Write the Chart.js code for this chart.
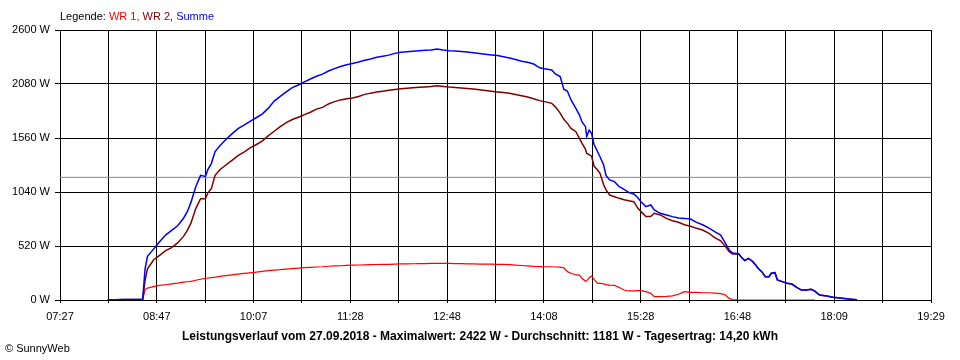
<!DOCTYPE html>
<html>
<head>
<meta charset="utf-8">
<script src="https://cdn.jsdelivr.net/npm/chart.js@4.4.1/dist/chart.umd.min.js"></script>
<style>
  body { margin: 0; background: #fff; }
</style>
</head>
<body>
<canvas id="grafik" width="960" height="360"></canvas>
<script>
// Messzeitpunkte (gemeinsam fuer alle Reihen)
const zeiten = [
  '08:07','08:20','08:36','08:38','08:40','08:45','08:50','08:55','09:00','09:05',
  '09:10','09:13','09:16','09:20','09:24','09:28','09:30','09:33','09:36','09:40',
  '09:45','09:50','09:55','10:00','10:05','10:10','10:15','10:20','10:25','10:30',
  '10:35','10:40','10:45','10:50','10:55','11:00','11:05','11:10','11:15','11:20',
  '11:25','11:30','11:35','11:40','11:45','11:50','11:55','12:00','12:05','12:10',
  '12:15','12:20','12:25','12:30','12:35','12:40','12:45','12:50','12:55','13:00',
  '13:05','13:10','13:15','13:20','13:25','13:30','13:35','13:40','13:45','13:50',
  '13:55','14:00','14:05','14:10','14:15','14:18','14:22','14:25','14:28','14:31',
  '14:35','14:38','14:40','14:43','14:44','14:46','14:48','14:50','14:53','14:55',
  '14:58','15:00','15:03','15:07','15:11','15:15','15:19','15:23','15:26','15:29',
  '15:33','15:37','15:40','15:45','15:50','15:55','16:00','16:05','16:10','16:15',
  '16:20','16:25','16:30','16:35','16:39','16:42','16:45','16:50','16:53','16:55',
  '16:58','17:01','17:04','17:06','17:09','17:12','17:15','17:17','17:20','17:22',
  '17:26','17:30','17:34','17:38','17:42','17:46','17:50','17:53','17:57','18:03',
  '18:08','18:14','18:19','18:25','18:28'
];

const summe = [
  0, 5, 5, 300, 420, 490, 560, 625, 670, 715,
  790, 850, 940, 1090, 1200, 1190, 1255, 1316, 1430, 1485,
  1545, 1600, 1650, 1685, 1720, 1755, 1790, 1845, 1915, 1960,
  2005, 2045, 2070, 2100, 2128, 2155, 2175, 2205, 2228, 2248,
  2265, 2278, 2292, 2308, 2320, 2337, 2348, 2358, 2375, 2385,
  2390, 2396, 2400, 2405, 2408, 2418, 2408, 2400, 2398, 2393,
  2388, 2381, 2374, 2367, 2360, 2354, 2342, 2330, 2315, 2300,
  2290, 2272, 2236, 2225, 2215, 2177, 2151, 2030, 2010, 1926,
  1846, 1781, 1717, 1669, 1573, 1637, 1605, 1500, 1428, 1380,
  1300, 1200, 1156, 1140, 1091, 1066, 1034, 1021, 990, 947,
  899, 915, 867, 835, 819, 803, 790, 786, 780, 748,
  725, 695, 658, 625, 546, 482, 452, 443, 401, 379,
  401, 376, 337, 305, 273, 225, 225, 257, 263, 193,
  177, 161, 154, 122, 96, 96, 103, 85, 48, 39,
  26, 19, 13, 6, 3
];

const wr2 = [
  0, 5, 5, 190, 300, 385, 430, 475, 505, 550,
  615, 670, 740, 880, 975, 975, 1030, 1075, 1200, 1255,
  1300, 1345, 1390, 1425, 1465, 1495, 1530, 1580, 1625, 1670,
  1708, 1738, 1760, 1785, 1808, 1838, 1855, 1888, 1910, 1927,
  1937, 1946, 1960, 1980, 1992, 2002, 2011, 2020, 2028, 2034,
  2040, 2044, 2048, 2052, 2055, 2062, 2056, 2050, 2046, 2041,
  2037, 2031, 2024, 2017, 2010, 2004, 1999, 1990, 1978, 1966,
  1955, 1938, 1920, 1908, 1894, 1860, 1800, 1740, 1701, 1653,
  1621, 1557, 1510, 1450, 1412, 1400, 1385, 1290, 1252, 1220,
  1110, 1060, 1011, 995, 979, 965, 955, 947, 890, 851,
  803, 803, 835, 819, 786, 764, 748, 725, 710, 690,
  674, 645, 600, 570, 514, 465, 443, 443, 401, 379,
  401, 376, 337, 305, 273, 225, 225, 257, 263, 193,
  177, 161, 154, 122, 96, 96, 103, 85, 48, 39,
  26, 19, 13, 6, 3
];

const wr1 = [
  0, 0, 0, 100, 115, 128, 140, 147, 155, 162,
  172, 176, 180, 190, 200, 208, 212, 216, 220, 228,
  235, 242, 250, 257, 262, 268, 275, 282, 288, 292,
  298, 303, 307, 311, 315, 318, 320, 325, 328, 330,
  333, 335, 337, 338, 340, 342, 343, 344, 346, 347,
  348, 349, 350, 351, 352, 353, 353, 352, 351, 350,
  348, 347, 346, 346, 345, 344, 343, 340, 336, 332,
  328, 324, 322, 320, 320, 318, 316, 310, 273, 257,
  241, 240, 209, 180, 185, 215, 231, 200, 161, 161,
  155, 148, 144, 140, 120, 96, 87, 88, 90, 90,
  80, 64, 32, 32, 34, 40, 55, 80, 74, 74,
  70, 70, 66, 62, 48, 15, 5, 0, 0, 0,
  0, 0, 0, 0, 0, 0, 0, 0, 0, 0,
  0, 0, 0, 0, 0, 0, 0, 0, null, null,
  null, null, null, null, null
];

// Achsenbeschriftung unten (jede zweite Gitterlinie)
const xTickLabels = ['07:27','08:47','10:07','11:28','12:48','14:08','15:28','16:48','18:09','19:29'];
const xMin = 447.5;   // 07:27:30 in Minuten
const xMax = 1169.3;  // 19:29:18
const yMax = 2600;
const yStep = 520;
const durchschnitt = 1181;
const titel = 'Leistungsverlauf vom 27.09.2018 - Maximalwert: 2422 W - Durchschnitt: 1181 W - Tagesertrag: 14,20 kWh';

Chart.defaults.font.family = '"Liberation Sans", Arial, sans-serif';
Chart.defaults.font.size = 11;
Chart.defaults.color = '#000';

function zuMinuten(t) {
    const [h, m] = t.split(':').map(Number);
    return h * 60 + m;
}

function punkte(werte) {
    return zeiten.map((t, i) => ({ x: zuMinuten(t), y: werte[i] }));
}

//Texte oben und unten, die nicht zu den Achsen gehoeren
const textePlugin = {
    id: 'texte',
    afterDraw(chart) {
        const ctx = chart.ctx;
        ctx.save();
        ctx.textBaseline = 'middle';
        ctx.font = '11px "Liberation Sans", Arial, sans-serif';
        let x = chart.chartArea.left;
        [['Legende: ', '#000'], ['WR 1, ', '#ff0000'], ['WR 2, ', '#800000'], ['Summe', '#0000ff']].forEach(([t, c]) => {
            ctx.fillStyle = c;
            ctx.fillText(t, x, 17);
            x += ctx.measureText(t).width;
        });
        ctx.fillStyle = '#000';
        ctx.fillText('\u00A9 SunnyWeb', 5, 349);
        ctx.font = 'bold 12px "Liberation Sans", Arial, sans-serif';
        ctx.textAlign = 'center';
        ctx.fillText(titel, 480, 337);
        ctx.restore();
    }
};

function criarGrafico(id) {
    return new Chart(document.getElementById(id), {
        type: 'line',
        data: {
            datasets: [
                { label: 'Summe', data: punkte(summe), borderColor: '#0000ff', borderWidth: 1.5 },
                { label: 'WR 2', data: punkte(wr2), borderColor: '#800000', borderWidth: 1.5 },
                { label: 'WR 1', data: punkte(wr1), borderColor: '#ff0000', borderWidth: 1.2 },
                { label: 'Durchschnitt', data: [{ x: xMin, y: durchschnitt }, { x: xMax, y: durchschnitt }], borderColor: '#888888', borderWidth: 1 }
            ]
        },
        options: {
            responsive: false,
            animation: false,
            devicePixelRatio: 1,
            elements: { point: { radius: 0 }, line: { tension: 0 } },
            layout: { padding: { top: 30, right: 29, left: 0, bottom: 0 } },
            scales: {
                x: {
                    type: 'linear',
                    min: xMin,
                    max: xMax,
                    afterBuildTicks(scale) {
                        const schritt = (xMax - xMin) / 18;
                        scale.ticks = [];
                        for (let i = 0; i <= 18; i++) scale.ticks.push({ value: xMin + i * schritt });
                    },
                    afterFit(scale) {
                        scale.height = 60;
                        scale.paddingLeft = 0;
                        scale.paddingRight = 0;
                    },
                    ticks: {
                        autoSkip: false,
                        maxRotation: 0,
                        padding: 7,
                        callback: (v, i) => (i % 2 === 0 ? xTickLabels[i / 2] : '')
                    },
                    grid: { color: '#000', lineWidth: 1, tickLength: 3, tickColor: '#000' },
                    border: { color: '#000', width: 1 }
                },
                y: {
                    min: 0,
                    max: yMax,
                    afterFit(scale) {
                        scale.width = 60;
                        scale.paddingTop = 0;
                        scale.paddingBottom = 0;
                    },
                    ticks: {
                        stepSize: yStep,
                        padding: 5,
                        callback: (v) => v + ' W'
                    },
                    grid: { color: '#000', lineWidth: 1, tickLength: 5, tickColor: '#000' },
                    border: { color: '#000', width: 1 }
                }
            },
            plugins: {
                legend: { display: false },
                tooltip: { enabled: false }
            }
        },
        plugins: [textePlugin]
    });
}

criarGrafico('grafik');
</script>
</body>
</html>
